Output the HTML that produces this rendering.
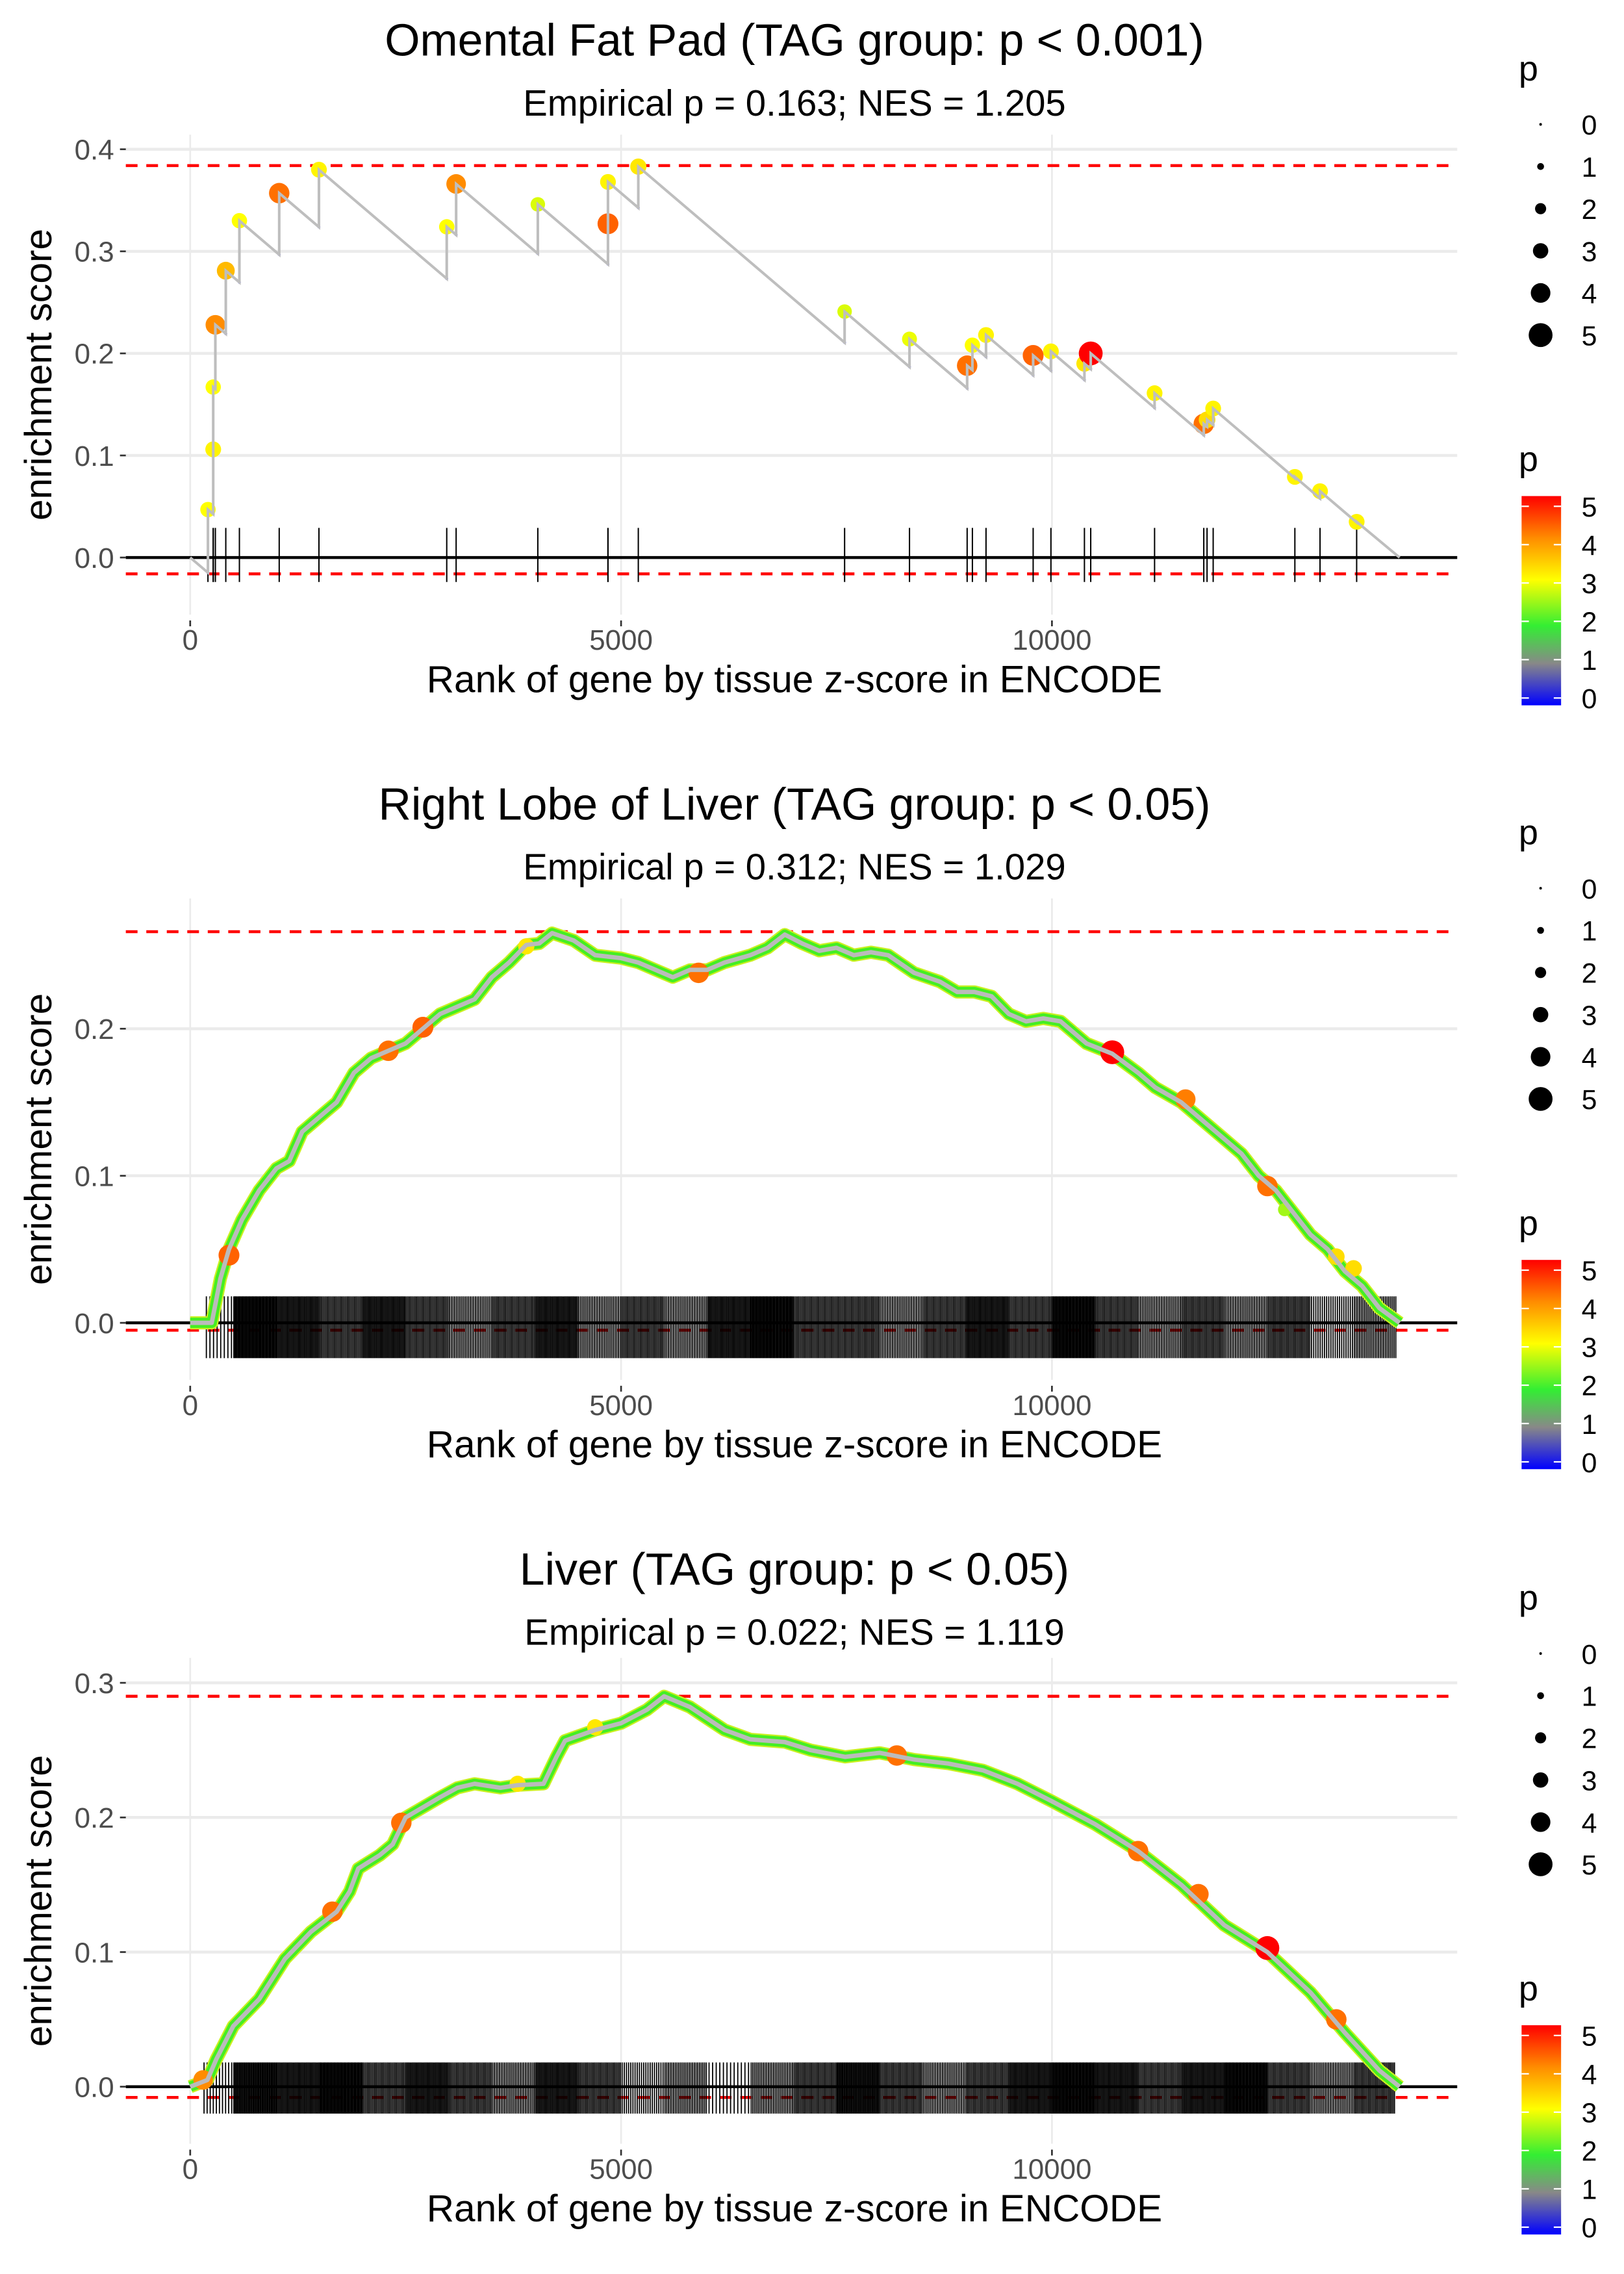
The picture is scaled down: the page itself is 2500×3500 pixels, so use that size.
<!DOCTYPE html>
<html><head><meta charset="utf-8"><style>
html,body{margin:0;padding:0;background:#fff;}
svg{display:block;}
text{font-family:"Liberation Sans",sans-serif;}
</style></head><body>
<svg id="chart" xmlns="http://www.w3.org/2000/svg" width="2500" height="3500" viewBox="0 0 1110 1554">
<defs>
<linearGradient id="pgrad" x1="0" y1="1" x2="0" y2="0">
<stop offset="0" stop-color="#0000ff"/><stop offset="0.2" stop-color="#888888"/><stop offset="0.38" stop-color="#33ee33"/><stop offset="0.6" stop-color="#ffff00"/><stop offset="0.8" stop-color="#ff8c00"/><stop offset="1" stop-color="#ff0000"/>
</linearGradient>
</defs>
</svg>
<script>
// Panel 1 data (Omental Fat Pad)
const p1Rank=[206,267,267,292,413,571,1033,1494,2977,3086,4034,4848,4848,5200,7594,8347,9016,9077,9235,9782,9988,10377,10450,11191,11762,11800,11871,12819,13111,13536];
const p1ES=[.047,.106,.167,.228,.281,.330,.357,.380,.324,.366,.346,.327,.368,.383,.241,.214,.188,.208,.218,.198,.202,.190,.200,.161,.131,.135,.146,.079,.065,.035];
const p1P=[3.0,3.1,3.0,4.0,3.6,3.0,4.2,3.1,3.0,4.0,2.8,4.3,3.1,3.2,2.8,2.9,4.2,3.0,3.1,4.3,3.1,3.2,5.0,3.1,4.2,3.3,3.1,3.1,3.1,3.1];
const p1Slope=0.000072;
// Panel 2 data (Right Lobe of Liver)
const p2KnotRank=[0,250,350,450,600,800,1000,1150,1300,1500,1700,1900,2100,2300,2500,2700,2900,3100,3300,3500,3700,3900,4050,4200,4450,4700,5000,5200,5400,5600,5800,6000,6200,6500,6700,6900,7100,7300,7500,7700,7900,8100,8400,8700,8900,9100,9300,9500,9700,9900,10100,10400,10700,11000,11200,11500,11700,12000,12200,12400,12600,12800,13000,13200,13400,13600,13800,14034];
const p2KnotES=[0,0,.03,.05,.07,.09,.105,.11,.13,.14,.15,.17,.18,.185,.19,.2,.21,.215,.22,.235,.245,.257,.258,.265,.26,.25,.248,.245,.24,.235,.24,.24,.245,.25,.255,.264,.258,.253,.255,.25,.252,.25,.238,.232,.225,.225,.222,.21,.205,.207,.205,.19,.183,.17,.16,.15,.14,.125,.115,.1,.09,.075,.06,.05,.035,.025,.01,0];
const p2PtRank=[450,2300,2700,3900,5900,10700,11550,12500,12700,13300,13500];
const p2PtES=[.046,.185,.201,.256,.238,.184,.152,.093,.077,.045,.037];
const p2PtP=[4.3,4.2,4.3,3.2,4.2,5.0,4.1,4.2,2.5,3.3,3.3];
const p2Rug=[12,40,35,30,35,30,25,30,35,25,30,25,35,40,30,30,25,30,35,30,40,30,25,30,25,30,20,25,6];
// Panel 3 data (Liver)
const p3KnotRank=[0,200,300,500,800,1100,1400,1700,1850,1950,2200,2350,2500,2900,3100,3300,3600,3800,4100,4250,4350,4700,5000,5300,5500,5800,6200,6500,6900,7200,7600,8000,8400,8800,9200,9600,10000,10500,11000,11500,12000,12500,13000,13400,13800,14034];
const p3KnotES=[0,.005,.02,.045,.065,.095,.115,.13,.145,.162,.172,.18,.2,.215,.222,.225,.222,.224,.225,.245,.257,.265,.27,.28,.29,.282,.265,.258,.256,.25,.245,.248,.243,.24,.235,.225,.212,.195,.175,.15,.12,.1,.07,.04,.012,0];
const p3PtRank=[150,1650,2450,3800,4700,8200,11000,11700,12500,13300];
const p3PtES=[.005,.13,.196,.225,.267,.246,.175,.143,.103,.05];
const p3PtP=[4.0,4.2,4.2,3.2,3.2,4.2,4.2,4.2,5.0,4.2];
const p3Rug=[14,38,35,40,30,35,30,25,35,30,20,25,12,25,30,38,30,25,30,35,40,35,30,35,40,30,25,30,8];
const xTicks=[0,5000,10000];
const legendVals=[0,1,2,3,4,5];

const NS='http://www.w3.org/2000/svg';
const svg=document.getElementById('chart');
function mk(tag,attrs,parent){const e=document.createElementNS(NS,tag);for(const k in attrs)e.setAttribute(k,attrs[k]);(parent||svg).appendChild(e);return e;}
function sx(r){return 130+r*294.5/5000;}
function lerp(a,b,t){return a+(b-a)*t;}
const cStops=[[0,[0,0,255]],[1,[136,136,136]],[1.9,[51,238,51]],[3,[255,255,0]],[4,[255,140,0]],[5,[255,0,0]]];
function pcol(p){for(let i=0;i<cStops.length-1;i++){const [a,ca]=cStops[i],[b,cb]=cStops[i+1];if(p<=b){const t=Math.max(0,(p-a)/(b-a));return 'rgb('+ca.map((v,j)=>Math.round(lerp(v,cb[j],t))).join(',')+')';}}return 'rgb(255,0,0)';}
function prad(p){return 0.9+p*1.45;}

const panels=[
 {off:0,y0:381,k:697.5,top:92,bot:420,yt:[0,0.1,0.2,0.3,0.4],max:0.384,min:-0.016,title:'Omental Fat Pad (TAG group: p < 0.001)',sub:'Empirical p = 0.163; NES = 1.205',rugTop:0.029,rugBot:-0.024},
 {off:522,y0:904,k:1005,top:614,bot:943,yt:[0,0.1,0.2],max:0.266,min:-0.005,title:'Right Lobe of Liver (TAG group: p < 0.05)',sub:'Empirical p = 0.312; NES = 1.029',rugTop:0.018,rugBot:-0.024},
 {off:1045,y0:1426,k:920,top:1133,bot:1465,yt:[0,0.1,0.2,0.3],max:0.29,min:-0.008,title:'Liver (TAG group: p < 0.05)',sub:'Empirical p = 0.022; NES = 1.119',rugTop:0.018,rugBot:-0.02}
];

panels.forEach((P,pi)=>{
 const g=mk('g',{});
 
 
 const sy=v=>P.y0-v*P.k;
 P.yt.forEach(v=>{const l=mk('line',{x1:86,x2:996,y1:sy(v),y2:sy(v),stroke:'#ebebeb','stroke-width':2},g);
  });
 xTicks.forEach(v=>{const l=mk('line',{x1:sx(v),x2:sx(v),y1:P.top,y2:P.bot,stroke:'#ebebeb','stroke-width':1.2},g);
  });
 const t=mk('text',{x:543,y:P.off+38,'text-anchor':'middle','font-size':31,fill:'#000'},g);t.textContent=P.title;
 
 const st=mk('text',{x:543,y:P.off+79,'text-anchor':'middle','font-size':25,fill:'#000'},g);st.textContent=P.sub;
 
 P.yt.forEach(v=>{mk('line',{x1:82,x2:86,y1:sy(v),y2:sy(v),stroke:'#333','stroke-width':1.2},g);
  const tl=mk('text',{x:78,y:sy(v)+7,'text-anchor':'end','font-size':19.5,fill:'#4d4d4d'},g);tl.textContent=v.toFixed(1);
  });
 xTicks.forEach(v=>{mk('line',{x1:sx(v),x2:sx(v),y1:P.bot+4,y2:P.bot+8,stroke:'#333','stroke-width':1.2},g);
  const tl=mk('text',{x:sx(v),y:P.bot+24,'text-anchor':'middle','font-size':19.5,fill:'#4d4d4d'},g);tl.textContent=v;
  });
 const yl=mk('text',{x:0,y:0,'text-anchor':'middle','font-size':26,fill:'#000',transform:'translate(35,'+((P.top+P.bot)/2)+') rotate(-90)'},g);yl.textContent='enrichment score';
 
 const xl=mk('text',{x:543,y:P.bot+53,'text-anchor':'middle','font-size':26,fill:'#000'},g);xl.textContent='Rank of gene by tissue z-score in ENCODE';
 
 const z=mk('line',{x1:86,x2:996,y1:sy(0),y2:sy(0),stroke:'#000','stroke-width':2},g);
 
 [P.max,P.min].forEach((v,i)=>{const d=mk('line',{x1:86,x2:996,y1:sy(v),y2:sy(v),stroke:'#ff0000','stroke-width':2,'stroke-dasharray':'8 6'},g);
  });
 const s=mk('g',{},g);
 
 const rug=(r,w)=>{const l=mk('line',{x1:sx(r),x2:sx(r),y1:sy(P.rugTop),y2:sy(P.rugBot),stroke:'#000','stroke-width':w},s);
   };
 if(pi==0){
  let pr=0,pe=0,pts='M'+sx(0)+','+sy(0);const lows=[];
  p1Rank.forEach((r,i)=>{const b=pe-p1Slope*(r-pr);pts+=' L'+sx(r)+','+sy(b)+' L'+sx(r)+','+sy(p1ES[i]);lows.push([r,b]);pr=r;pe=p1ES[i];});
  pts+=' L'+sx(14034)+','+sy(Math.max(0,pe-p1Slope*(14034-pr)));
  p1Rank.forEach(r=>rug(r,0.9));
  lows.forEach(([r,b])=>{const c=mk('circle',{cx:sx(r),cy:sy(b),r:1,fill:'#5555ff'},s);
   });
  p1Rank.forEach((r,i)=>{const c=mk('circle',{cx:sx(r),cy:sy(p1ES[i]),r:prad(p1P[i]),fill:pcol(p1P[i])},s);
   });
  const pa=mk('path',{d:pts,fill:'none',stroke:'#bebebe','stroke-width':1.8},s);
  
 } else {
  const KR=pi==1?p2KnotRank:p3KnotRank,KE=pi==1?p2KnotES:p3KnotES,RU=pi==1?p2Rug:p3Rug;
  const PR=pi==1?p2PtRank:p3PtRank,PE=pi==1?p2PtES:p3PtES,PP=pi==1?p2PtP:p3PtP;
  RU.forEach((n,b)=>{for(let j=0;j<n;j++){const r=b*500+(j+0.5)*500/n;if(r>13990)continue;if(b==0&&r<150)continue;rug(r,0.8);}});
  const d='M'+KR.map((r,i)=>sx(r)+','+sy(KE[i])).join(' L');
  const yb=mk('path',{d:d,fill:'none',stroke:'#c8f020','stroke-width':9,'stroke-linejoin':'round'},s);
  
  const gl=mk('path',{d:d,fill:'none',stroke:'#44ee22','stroke-width':7,'stroke-linejoin':'round'},s);
  
  PR.forEach((r,i)=>{const c=mk('circle',{cx:sx(r),cy:sy(PE[i]),r:prad(PP[i]),fill:pcol(PP[i])},s);
   });
  const ln=mk('path',{d:d,fill:'none',stroke:'#bbbbbb','stroke-width':3,'stroke-linejoin':'round'},s);
  
 }
 const lg=mk('g',{},g);
 
 const lt=mk('text',{x:1038,y:P.off+55,'font-size':24,fill:'#000'},lg);lt.textContent='p';
 legendVals.forEach((v,i)=>{const y=P.off+85+i*28.8;
  const c=mk('circle',{cx:1053,cy:y,r:prad(v),fill:'#000'},lg);
  
  const tx=mk('text',{x:1081,y:y+7,'font-size':19,fill:'#000'},lg);tx.textContent=v;});
 const cg=mk('g',{},g);
 
 const ct=mk('text',{x:1038,y:P.off+322,'font-size':24,fill:'#000'},cg);ct.textContent='p';
 const bar=mk('rect',{x:1040,y:P.off+339,width:27,height:143,fill:'url(#pgrad)'},cg);
 
 legendVals.forEach(v=>{const y=P.off+477-v*26.2;
  mk('line',{x1:1040,x2:1045,y1:y,y2:y,stroke:'#fff','stroke-width':1},cg);
  mk('line',{x1:1062,x2:1067,y1:y,y2:y,stroke:'#fff','stroke-width':1},cg);
  const tx=mk('text',{x:1081,y:y+7,'font-size':19,fill:'#000'},cg);tx.textContent=v;});
});
</script>
</body></html>
